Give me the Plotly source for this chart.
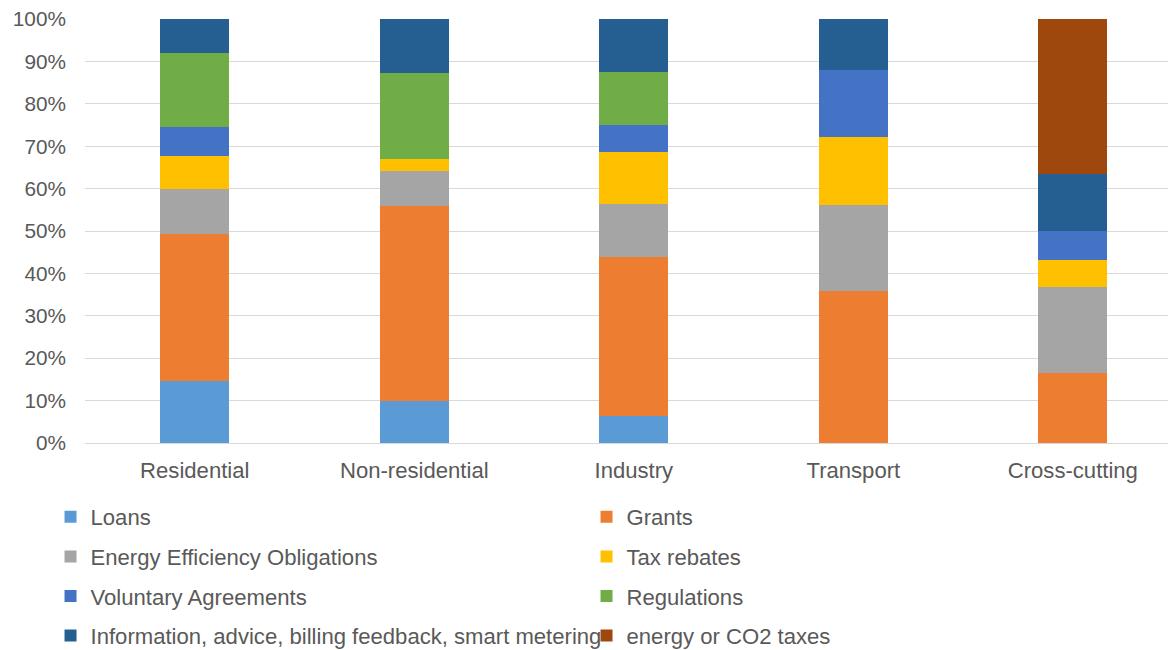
import plotly.graph_objects as go

categories = ["Residential", "Non-residential", "Industry", "Transport", "Cross-cutting"]

loans = [14.7, 9.9, 6.3, 0, 0]
grants = [34.7, 45.9, 37.5, 35.9, 16.6]
eeo = [10.6, 8.4, 12.6, 20.2, 20.2]
tax_rebates = [7.8, 2.8, 12.3, 16.0, 6.4]
voluntary = [6.8, 0, 6.4, 15.9, 6.8]
regulations = [17.4, 20.3, 12.5, 0, 0]
information = [8.0, 12.7, 12.4, 12.0, 13.4]
co2_taxes = [0, 0, 0, 0, 36.6]

y_tick_values = [0, 10, 20, 30, 40, 50, 60, 70, 80, 90, 100]
y_tick_labels = ["0%", "10%", "20%", "30%", "40%", "50%", "60%", "70%", "80%", "90%", "100%"]

series_names = ["Loans", "Grants", "Energy Efficiency Obligations", "Tax rebates",
                "Voluntary Agreements", "Regulations",
                "Information, advice, billing feedback, smart metering", "energy or CO2 taxes"]
series_values = [loans, grants, eeo, tax_rebates, voluntary, regulations, information, co2_taxes]
colors = ["#5B9BD5", "#ED7D31", "#A5A5A5", "#FFC000", "#4472C4", "#70AD47", "#255E91", "#9E480E"]
legend_ids = ["legend", "legend", "legend2", "legend2", "legend3", "legend3", "legend4", "legend4"]

fig = go.Figure()
for name, vals, col, lg in zip(series_names, series_values, colors, legend_ids):
    fig.add_trace(go.Bar(x=categories, y=vals, name=name, marker_color=col,
                         marker_line_width=0, width=0.315, legend=lg))

family = "Liberation Sans, Arial, sans-serif"
font = dict(family=family, size=22.1, color="#595959")
yfont = dict(family=family, size=20.8, color="#595959")
legend_rows_y = [-0.174, -0.268, -0.361, -0.4545]
leg_common = dict(orientation="h", x=-0.0316, xanchor="left", yanchor="middle",
                  entrywidth=491, entrywidthmode="pixels", font=font,
                  bgcolor="rgba(0,0,0,0)", traceorder="normal")

fig.update_layout(
    barmode="stack",
    width=1176, height=650,
    margin=dict(l=77, r=8, t=11, b=215, autoexpand=False),
    paper_bgcolor="white", plot_bgcolor="white",
    font=font,
    legend=dict(y=legend_rows_y[0], **leg_common),
    legend2=dict(y=legend_rows_y[1], **leg_common),
    legend3=dict(y=legend_rows_y[2], **leg_common),
    legend4=dict(y=legend_rows_y[3], **leg_common),
    xaxis=dict(range=[-0.5, 4.47], showgrid=False, showline=False, ticks="",
               tickfont=font, ticklabelstandoff=12, automargin=False),
    yaxis=dict(range=[0, 100.01], tickvals=y_tick_values, ticktext=y_tick_labels,
               showgrid=True, ticklabeloverflow="allow",
               gridcolor="#D9D9D9", gridwidth=1, zeroline=True, zerolinecolor="#D9D9D9",
               zerolinewidth=1, showline=False, tickfont=yfont, ticklabelstandoff=18,
               automargin=False),
)

fig.write_html("out.html")
